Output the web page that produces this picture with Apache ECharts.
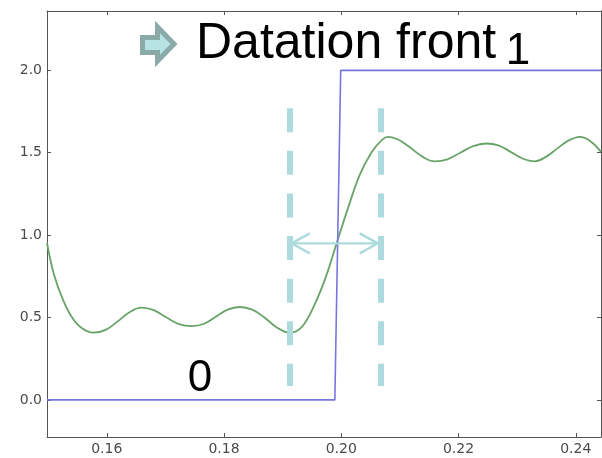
<!DOCTYPE html>
<html>
<head>
<meta charset="utf-8">
<script src="https://cdn.jsdelivr.net/npm/echarts@6/dist/echarts.min.js"></script>
<style>
html,body{margin:0;padding:0;background:#fff;}
#main{width:602px;height:458px;}
</style>
</head>
<body>
<div id="main"></div>
<script>
// ---- data ----
var xTicks = [0.16, 0.18, 0.20, 0.22, 0.24];
var yTicks = [0.0, 0.5, 1.0, 1.5, 2.0];
var stepX = [0.1498, 0.1989, 0.1999, 0.2443];
var stepY = [0, 0, 2, 2];
var waveX = [0.1498, 0.1510, 0.1525, 0.1540, 0.1556, 0.1577,
             0.1598, 0.1618, 0.1638, 0.1659,
             0.1680, 0.1702, 0.1723, 0.1745,
             0.1766, 0.1786, 0.1806, 0.1827,
             0.1848, 0.1869, 0.1890, 0.1912,
             0.1932, 0.1952, 0.1972, 0.1992, 0.2012, 0.2032, 0.2052, 0.2070, 0.2080,
             0.2097, 0.2118, 0.2139, 0.2159,
             0.2181, 0.2203, 0.2225, 0.2247,
             0.2268, 0.2289, 0.2309, 0.2330,
             0.2349, 0.2368, 0.2388, 0.2407,
             0.2425, 0.2443];
var waveY = [0.952, 0.760, 0.610, 0.505, 0.440, 0.408,
             0.425, 0.475, 0.530, 0.560,
             0.545, 0.500, 0.460, 0.448,
             0.462, 0.505, 0.548, 0.564,
             0.548, 0.500, 0.440, 0.408,
             0.440, 0.560, 0.730, 0.950, 1.170, 1.370, 1.505, 1.580, 1.596,
             1.580, 1.530, 1.475, 1.448,
             1.460, 1.500, 1.540, 1.556,
             1.545, 1.505, 1.465, 1.448,
             1.475, 1.525, 1.575, 1.596,
             1.570, 1.505];
var dashX = [0.1912, 0.2067];
var dashYRange = [1.77, 0.085];
var arrowSpan = [0.19154, 0.20621];
var arrowY = 0.95;
var titleText = 'Datation front';
var lowLabel = '0';
var highLabel = '1';

function zip(a, b) { return a.map(function (v, i) { return [v, b[i]]; }); }

var axisColor = '#555';
var labelStyle = { fontFamily: 'DejaVu Sans', fontSize: 14, color: '#4a4a4a' };
var dashColor = '#acdadd';

var chart = echarts.init(document.getElementById('main'));
var xMin = 0.1498, xMax = 0.2443, yMin = -0.225, yMax = 2.36;

function xAx(pos, showLabel) {
  return {
    type: 'value', position: pos, min: xMin, max: xMax,
    axisLine: { show: true, onZero: false, lineStyle: { color: axisColor, width: 1 } },
    axisTick: { show: true, inside: true, length: 4, customValues: xTicks, lineStyle: { color: axisColor } },
    axisLabel: Object.assign({ show: showLabel, margin: 5, customValues: xTicks,
      formatter: function (v) { return v.toFixed(2); } }, labelStyle),
    splitLine: { show: false }
  };
}
function yAx(pos, showLabel) {
  return {
    type: 'value', position: pos, min: yMin, max: yMax,
    axisLine: { show: true, onZero: false, lineStyle: { color: axisColor, width: 1 } },
    axisTick: { show: true, inside: true, length: 4, customValues: yTicks, lineStyle: { color: axisColor } },
    axisLabel: Object.assign({ show: showLabel, margin: 5, customValues: yTicks,
      formatter: function (v) { return v.toFixed(1); } }, labelStyle),
    splitLine: { show: false }
  };
}

chart.setOption({
  animation: false,
  backgroundColor: '#fff',
  grid: { left: 47, right: 1, top: 11, bottom: 21, containLabel: false },
  xAxis: [xAx('bottom', true), xAx('top', false)],
  yAxis: [yAx('left', true), yAx('right', false)],
  series: [
    {
      type: 'line', data: zip(stepX, stepY), showSymbol: false, symbol: 'none',
      lineStyle: { color: '#7676dc', width: 1.6 }, z: 3
    },
    {
      type: 'line', data: zip(waveX, waveY), showSymbol: false, symbol: 'none', smooth: 0.4,
      lineStyle: { color: '#68a468', width: 1.8 }, z: 2,
      markLine: {
        silent: true, symbol: 'none', animation: false,
        label: { show: false },
        lineStyle: { color: dashColor, width: 6, type: [24, 18.6] },
        data: dashX.map(function (x) {
          return [{ coord: [x, dashYRange[0]] }, { coord: [x, dashYRange[1]] }];
        })
      }
    },
    {
      type: 'custom', silent: true, z: 4,
      data: [[arrowSpan[0], arrowSpan[1], arrowY]],
      renderItem: function (params, api) {
        var p1 = api.coord([api.value(0), api.value(2)]);
        var p2 = api.coord([api.value(1), api.value(2)]);
        var st = { stroke: dashColor, lineWidth: 2.4, fill: null };
        return {
          type: 'group',
          children: [
            { type: 'line', shape: { x1: p1[0], y1: p1[1], x2: p2[0], y2: p2[1] }, style: st },
            { type: 'polyline', shape: { points: [[p1[0] + 18, p1[1] - 10], [p1[0], p1[1]], [p1[0] + 18, p1[1] + 10]] }, style: st },
            { type: 'polyline', shape: { points: [[p2[0] - 18, p2[1] - 10], [p2[0], p2[1]], [p2[0] - 18, p2[1] + 10]] }, style: st }
          ]
        };
      }
    }
  ],
  graphic: [
    {
      type: 'polygon', silent: true,
      shape: { points: [[142.5, 37.5], [157.5, 37.5], [157.5, 27], [174, 44], [157.5, 61], [157.5, 52.5], [142.5, 52.5]] },
      style: { fill: '#b8e3e4', stroke: '#8aaaa8', lineWidth: 5, lineJoin: 'miter' }
    },
    {
      type: 'text', silent: true,
      style: { text: titleText, x: 196, y: 44.5, fill: '#000', font: '50px "Liberation Sans"',
        textAlign: 'left', textVerticalAlign: 'middle' }
    },
    {
      type: 'text', silent: true,
      style: { text: highLabel, x: 518, y: 52, fill: '#000', font: '44px "Liberation Sans"',
        textAlign: 'center', textVerticalAlign: 'middle' }
    },
    {
      type: 'text', silent: true,
      style: { text: lowLabel, x: 200, y: 378.5, fill: '#000', font: '44px "Liberation Sans"',
        textAlign: 'center', textVerticalAlign: 'middle' }
    }
  ]
});
</script>
</body>
</html>
